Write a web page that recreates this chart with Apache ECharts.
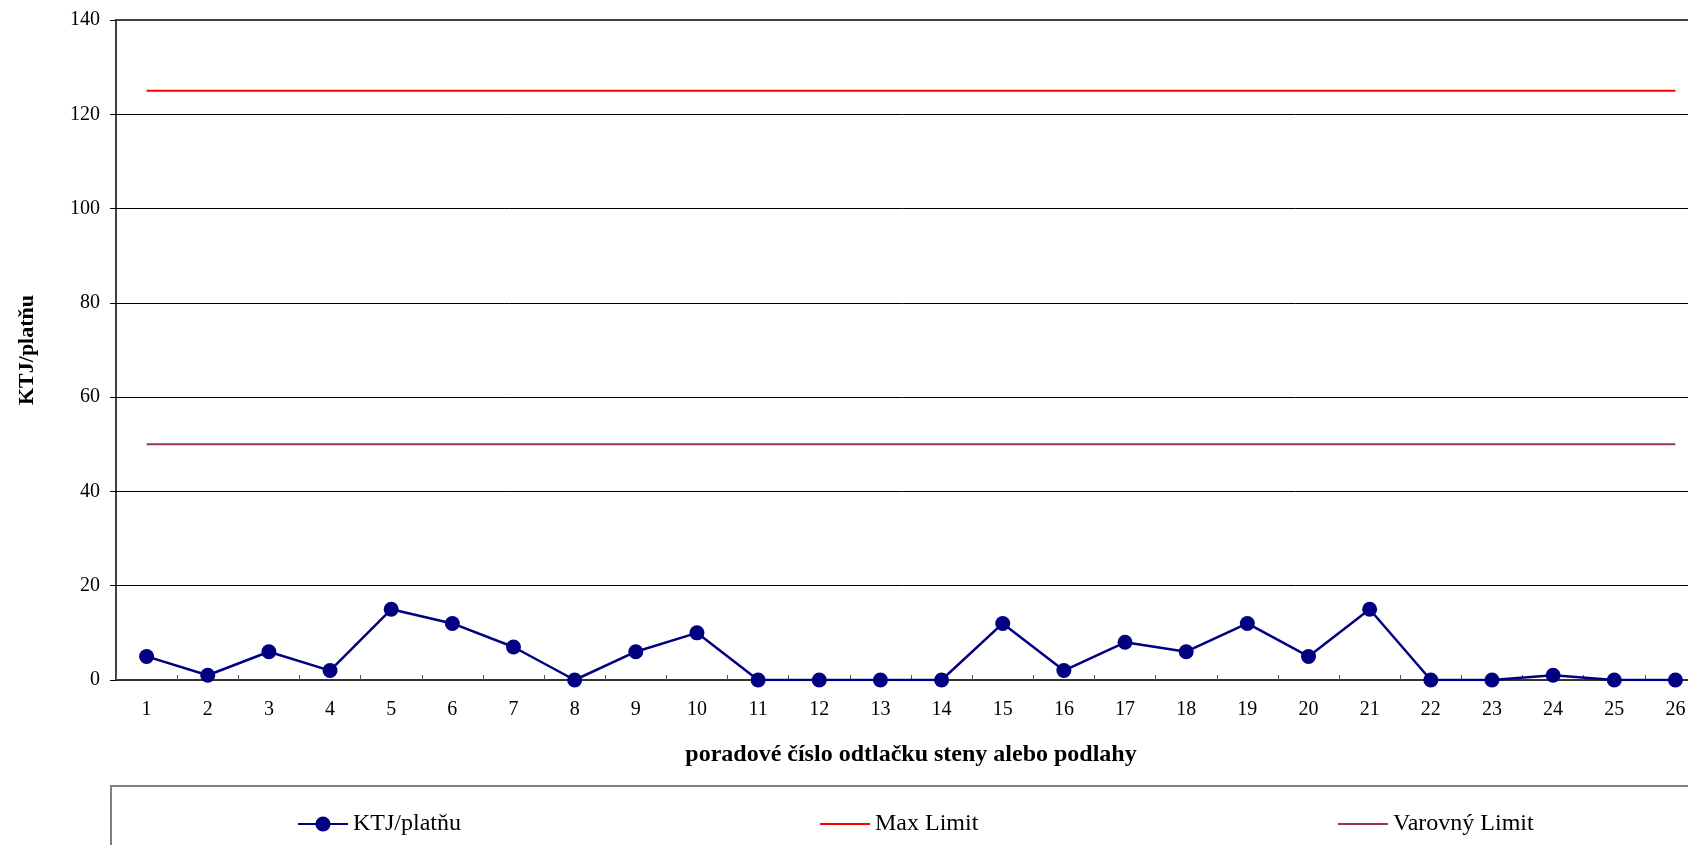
<!DOCTYPE html>
<html>
<head>
<meta charset="utf-8">
<script src="https://cdn.jsdelivr.net/npm/echarts@6/dist/echarts.min.js"></script>
<style>
  html, body { margin: 0; padding: 0; background: #fff; }
  #chart { width: 1688px; height: 845px; }
</style>
</head>
<body>
<div id="chart"></div>
<script>
// Imprint sequence numbers (wall / floor contact plates)
const categories = ['1','2','3','4','5','6','7','8','9','10','11','12','13','14','15','16','17','18','19','20','21','22','23','24','25','26'];
// Colony counts per plate
const ktjValues = [5, 1, 6, 2, 15, 12, 7, 0, 6, 10, 0, 0, 0, 0, 12, 2, 8, 6, 12, 5, 15, 0, 0, 1, 0, 0];
// Limits
const maxLimit = 125;
const warnLimit = 50;
const yTicks = [0, 20, 40, 60, 80, 100, 120, 140];

const FONT = '"Liberation Serif", "Times New Roman", serif';

const chart = echarts.init(document.getElementById('chart'));

const legendBase = {
  orient: 'horizontal',
  top: 807,
  itemWidth: 50,
  itemGap: 0,
  textStyle: { fontFamily: FONT, fontSize: 24, color: '#000' },
  selectedMode: false
};

chart.setOption({
  animation: false,
  backgroundColor: '#fff',
  textStyle: { fontFamily: FONT },
  // plot area runs past the right edge of the canvas
  grid: { left: 116, top: 20, bottom: 165, right: -18, containLabel: false, outerBoundsMode: 'none' },
  xAxis: [{
    type: 'category',
    data: categories,
    boundaryGap: true,
    name: 'poradové číslo odtlačku steny alebo podlahy',
    nameLocation: 'middle',
    nameGap: 63,
    nameTextStyle: { fontFamily: FONT, fontSize: 24, fontWeight: 'bold', color: '#000' },
    axisLine: { show: true, lineStyle: { color: '#333', width: 2 } },
    axisTick: { show: true, inside: true, length: 5, alignWithLabel: false, lineStyle: { color: '#555', width: 1 } },
    axisLabel: { fontFamily: FONT, fontSize: 20, color: '#000', margin: 20, interval: 0 },
    splitLine: { show: false }
  }, {
    // top frame of the plot area
    type: 'category',
    data: categories,
    position: 'top',
    axisLine: { show: true, lineStyle: { color: '#404040', width: 2 } },
    axisTick: { show: false },
    axisLabel: { show: false },
    splitLine: { show: false }
  }],
  yAxis: {
    type: 'value',
    min: yTicks[0],
    max: yTicks[yTicks.length - 1],
    interval: 20,
    name: 'KTJ/platňu',
    nameLocation: 'middle',
    nameGap: 78,
    nameTextStyle: { fontFamily: FONT, fontSize: 22, fontWeight: 'bold', color: '#000' },
    axisLine: { show: true, lineStyle: { color: '#000', width: 1.5 } },
    axisTick: { show: true, inside: false, length: 6, lineStyle: { color: '#000', width: 1 } },
    axisLabel: { fontFamily: FONT, fontSize: 20, color: '#000', margin: 16 },
    splitLine: { show: true, lineStyle: { color: '#000', width: 1 } }
  },
  legend: [
    Object.assign({}, legendBase, { left: 292, itemHeight: 19, data: ['KTJ/platňu'] }),
    Object.assign({}, legendBase, { left: 815, itemHeight: 2, data: [{ name: 'Max Limit', icon: 'rect' }] }),
    Object.assign({}, legendBase, { left: 1333, itemHeight: 2, data: [{ name: 'Varovný Limit', icon: 'rect' }] })
  ],
  graphic: [{
    type: 'rect',
    shape: { x: 111, y: 786, width: 1700, height: 200 },
    style: { fill: 'none', stroke: '#808080', lineWidth: 2 },
    z: -1,
    silent: true
  }],
  series: [{
    name: 'KTJ/platňu',
    type: 'line',
    data: ktjValues,
    symbol: 'circle',
    symbolSize: 15,
    lineStyle: { color: '#000080', width: 2.5 },
    itemStyle: { color: '#000080' },
    z: 5
  }, {
    name: 'Max Limit',
    type: 'line',
    data: categories.map(() => maxLimit),
    symbol: 'none',
    lineStyle: { color: '#FF0000', width: 2 },
    itemStyle: { color: '#FF0000' }
  }, {
    name: 'Varovný Limit',
    type: 'line',
    data: categories.map(() => warnLimit),
    symbol: 'none',
    lineStyle: { color: '#993366', width: 2 },
    itemStyle: { color: '#993366' }
  }]
});
</script>
</body>
</html>
